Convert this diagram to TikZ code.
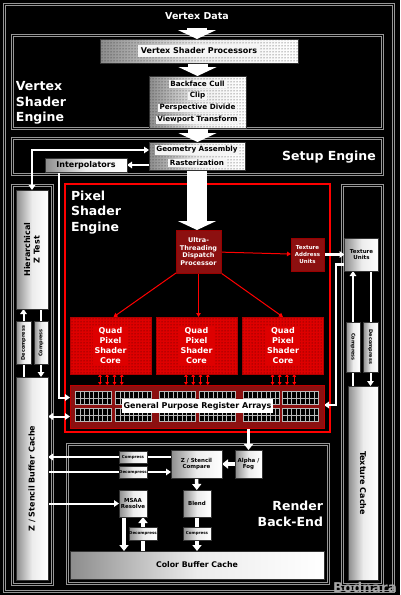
\documentclass[tikz,border=0pt]{standalone}
\usepackage{fontspec}
\setmainfont{DejaVu Sans}
\usetikzlibrary{arrows.meta,patterns,calc}
\definecolor{dispred}{RGB}{140,16,16}
\definecolor{corered}{RGB}{222,0,0}
\definecolor{framegray}{RGB}{150,150,150}
\pgfdeclarelayer{bg}
\pgfdeclarelayer{wires}
\pgfsetlayers{bg,wires,main}

\begin{document}
\begin{tikzpicture}[x=1pt,y=-1pt,
  every node/.append style={inner sep=0pt, outer sep=0pt},
  unit/.style={draw=gray!40!black, line width=0.6pt, left color=gray!90, right color=white,
    middle color=gray!15, text=black, align=center},
  dotunit/.style={unit, postaction={pattern=dots, pattern color=gray!30!black}},
  redunit/.style={draw=red!60!black, fill=dispred, text=white, align=center},
  core/.style={fill=corered, draw=red!70!black, postaction={pattern=dots, pattern color=red!25!black},
    minimum width=81pt, minimum height=57pt},
  frame/.style={draw=framegray, line width=0.9pt},
  title/.style={text=white, align=left, font=\fontsize{12.5}{15.5}\selectfont\bfseries}]
  \tikzstyle{band} = [fill=white!92!gray, inner xsep=1.5pt, inner ysep=1pt, text=black,
    font=\fontsize{7.2}{8}\selectfont\bfseries]
  \tikzstyle{coretext} = [fill=corered, inner sep=1.5pt, text=white, align=center,
    font=\fontsize{8}{9.7}\selectfont\bfseries]
  \tikzstyle{side} = [text=black, font=\fontsize{8}{9.5}\selectfont\bfseries, align=center]
  \tikzstyle{small} = [font=\fontsize{5}{6}\selectfont\bfseries]
  \tikzstyle{tiny} = [font=\fontsize{4}{5}\selectfont\bfseries]
  \tikzstyle{label} = [font=\fontsize{5.5}{6.8}\selectfont\bfseries]
  \tikzstyle{link} = [draw=white, line width=2pt, >={Triangle[width=6.5pt,length=5pt]}]
  \tikzstyle{fatlink} = [draw=white, line width=3.5pt, >={Triangle[width=9pt,length=6pt]}]
  \tikzstyle{bigarrow} = [draw=white, line width=20pt, -{Triangle[width=38pt,length=9pt]}]
  \tikzstyle{redlink} = [draw=red, line width=1pt, >={Triangle[width=4.5pt,length=4pt]}]
  \tikzstyle{tinyred} = [draw=red, line width=0.9pt, <->, >={Triangle[width=3.5pt,length=2.8pt]}]
  \useasboundingbox (0,0) rectangle (400,595);
  \begin{pgfonlayer}{bg}
    \fill[black] (0,0) rectangle (400,595);
    % double frames round each block
    \foreach \xa/\ya/\xb/\yb in {3/3/394/592, 11/34/383/129, 11/137/383/175,
        11/184/53/585, 341/184/383/585, 66/443/329/584} {
      \draw[frame] (\xa,\ya) rectangle (\xb,\yb);
      \draw[frame] (\xa+2,\ya+2) rectangle (\xb-2,\yb-2);
    }
    \draw[red, line width=1.6pt] (65,184) rectangle (330,432);
  \end{pgfonlayer}
  % vertex shader engine
  \node (v_data) [text=white, font=\fontsize{9.5}{11}\selectfont\bfseries] at (197,16) {Vertex Data};
  \node (v_proc) [dotunit, minimum width=198pt, minimum height=24pt] at (199,51) {};
  \node (v_proc_t) [band, font=\fontsize{8}{9}\selectfont\bfseries, inner xsep=3pt, inner ysep=2.5pt] at (v_proc) {Vertex Shader Processors};
  \node (v_clip) [dotunit, minimum width=97pt, minimum height=52pt] at (197.5,102) {};
  \foreach \t [count=\i] in {Backface Cull,Clip,Perspective Divide,Viewport Transform}
    \node (v_clip_\i) [band] at ($(v_clip.north)+(0,-4+12*\i)$) {\t};
  \node (v_title) [title, anchor=west] at (16,103) {Vertex\\Shader\\Engine};
  % setup engine
  \node (s_geo) [dotunit, minimum width=96pt, minimum height=28pt] at (197,156) {};
  \node (s_geo_1) [band] at ($(s_geo.north)+(0,8)$) {Geometry Assembly};
  \node (s_geo_2) [band] at ($(s_geo.north)+(0,21)$) {Rasterization};
  \node (s_title) [title] at (329,157) {Setup Engine};
  \node (s_interp) [unit, minimum width=82pt, minimum height=14pt, font=\fontsize{8}{9}\selectfont\bfseries] at (86,165) {Interpolators};
  % pixel shader engine
  \node (p_title) [title, anchor=west] at (71,212.5) {Pixel\\Shader\\Engine};
  \node (p_disp) [redunit, minimum width=45pt, minimum height=43pt, font=\fontsize{6.5}{7.7}\selectfont\bfseries] at (198.5,251.5) {Ultra-\\Threading\\Dispatch\\Processor};
  \node (p_tau) [redunit, minimum width=33pt, minimum height=33pt, font=\fontsize{5.5}{6.7}\selectfont\bfseries] at (307.5,254.5) {Texture\\Address\\Units};
  \node (t_units) [unit, minimum width=34pt, minimum height=33pt, font=\fontsize{5.5}{6.7}\selectfont\bfseries] at (361.5,254.5) {Texture\\Units};
  \foreach \x [count=\i] in {110.5,196.5,283} {
    \node (p_core\i) [core] at (\x,345.5) {};
    \node (p_core\i_t) [coretext] at (p_core\i) {Quad\\Pixel\\Shader\\Core};
  }
  \node (p_gpr) [redunit, draw=red!75!black, line width=1pt, minimum width=254pt, minimum height=43pt] at (197,406.5) {};
  \foreach \cx in {75,115,159,199,243,282}
    \foreach \cy in {391,408} {
      \fill[gray!55] (\cx,\cy) rectangle ++(37,14);
      \foreach \i in {0,...,7}
        \foreach \j in {0,1}
          \fill[black] (\cx+1+\i*4.5,\cy+1+\j*6.5) rectangle ++(3.6,5.5);
    }
  \node (p_gpr_t) [band, font=\fontsize{8}{9}\selectfont\bfseries, fill=white, inner xsep=1.5pt, inner ysep=3.5pt] at (197.5,406) {General Purpose Register Arrays};
  \coordinate (p_gpr_lo) at ([yshift=-10pt]p_gpr.west);
  % z side
  \node (h_z) [unit, minimum width=32pt, minimum height=119pt] at (32,249.5) {};
  \node (h_z_t) [side, rotate=90] at (h_z) {Hierarchical\\Z Test};
  \node (h_dec) [unit, minimum width=15pt, minimum height=43pt] at (23.5,343) {};
  \node (h_dec_t) [small, rotate=90] at (h_dec) {Decompress};
  \node (h_comp) [unit, minimum width=14pt, minimum height=43pt] at (41,343) {};
  \node (h_comp_t) [small, rotate=90] at (h_comp) {Compress};
  \node (z_cache) [unit, minimum width=32pt, minimum height=203pt] at (32,478.5) {};
  \node (z_cache_t) [side, rotate=90] at (z_cache) {Z / Stencil Buffer Cache};
  % texture side
  \node (t_comp) [unit, minimum width=14pt, minimum height=50pt] at (353,347) {};
  \node (t_comp_t) [small, rotate=-90] at (t_comp) {Compress};
  \node (t_dec) [unit, minimum width=15pt, minimum height=50pt] at (370.5,347) {};
  \node (t_dec_t) [small, rotate=-90] at (t_dec) {Decompress};
  \node (t_cache) [unit, minimum width=30pt, minimum height=194pt] at (363,483) {};
  \node (t_cache_t) [side, rotate=-90] at (t_cache) {Texture Cache};
  \coordinate (t_bend) at (336,405);
  % render back-end
  \node (r_alpha) [unit, label, minimum width=27pt, minimum height=28pt] at (248.5,464) {Alpha /\\Fog};
  \node (r_zsc) [unit, label, minimum width=51pt, minimum height=28pt] at (196.5,464) {Z / Stencil\\Compare};
  \node (r_comp1) [unit, tiny, minimum width=28pt, minimum height=12pt] at (133,457) {Compress};
  \node (r_dec1) [unit, tiny, minimum width=28pt, minimum height=12pt] at (133,472) {Decompress};
  \node (r_msaa) [unit, label, minimum width=28pt, minimum height=27pt] at (133,503.5) {MSAA\\Resolve};
  \node (r_blend) [unit, label, minimum width=28pt, minimum height=27pt] at (197,503.5) {Blend};
  \node (r_comp2) [unit, tiny, minimum width=28pt, minimum height=13pt] at (197,533.5) {Compress};
  \node (r_dec2) [unit, tiny, minimum width=28pt, minimum height=13pt] at (143,533.5) {Decompress};
  \node (c_cache) [unit, minimum width=254pt, minimum height=28pt, font=\fontsize{7.8}{9}\selectfont\bfseries] at (197,565) {Color Buffer Cache};
  \node (r_title) [title, align=right, anchor=east] at (323,514) {Render\\Back-End};
  \node (mark) [text=gray!70, font=\fontsize{13.5}{15}\selectfont\bfseries] at (365,587) {Bodnara};
  % connectors
  \begin{pgfonlayer}{wires}
    \draw[bigarrow, shorten <=8pt] (v_data.south) -- (v_data.south |- v_proc.north);
    \draw[bigarrow] (v_proc.south -| v_clip) -- (v_clip.north);
    \draw[bigarrow] (v_clip.south) -- (v_clip.south |- s_geo.north);
    \draw[bigarrow] (s_geo.south) -- (s_geo.south |- p_disp.north);
    \draw[link,<->] ([yshift=6pt]s_geo.west) -| (h_z.north);
    \draw[link,->] (s_geo.west |- s_interp.east) -- (s_interp.east);
    \draw[link,->] ([xshift=-27pt]s_interp.south) |- ([yshift=9pt]p_gpr.west);
    \draw[link,<->] (z_cache.east |- p_gpr_lo) -- (p_gpr_lo);
    \draw[link,->] (z_cache.north -| h_dec) -- (h_z.south -| h_dec);
    \draw[link,->] (h_z.south -| h_comp) -- (z_cache.north -| h_comp);
    \draw[link,->, line width=2.5pt] (p_tau) -- (t_units);
    \draw[link,->] (t_cache.north -| t_comp) -- (t_units.south -| t_comp);
    \draw[link,->] (t_units.south -| t_dec) -- (t_cache.north -| t_dec);
    \draw[link,->, line width=2.5pt] ([yshift=-10pt]t_units.west) -| (t_bend) -- (t_bend -| p_gpr.east);
    \draw[redlink,->] (p_disp) -- (p_tau);
    \draw[redlink,->] (p_disp.south west) -- ([xshift=3pt]p_core1.north);
    \draw[redlink,->] (p_disp.south) -- (p_disp.south |- p_core2.north);
    \draw[redlink,->] (p_disp.south east) -- (p_core3.north);
    \foreach \i in {1,2,3}
      \foreach \d in {-10.5,-3.3,4,11.3}
        \draw[tinyred] ($(p_core\i.south)+(\d,0)$) -- ($(p_core\i.south |- p_gpr.north)+(\d,0)$);
    \draw[fatlink,->] (p_gpr.south -| r_alpha) -- (r_alpha.north);
    \draw[fatlink,->] (r_alpha) -- (r_zsc);
    \draw[link,->] (r_zsc.west |- r_comp1) -- (z_cache.east |- r_comp1);
    \draw[link,->] (z_cache.east |- r_dec1) -- (r_zsc.west |- r_dec1);
    \draw[link,->] (z_cache.east |- r_msaa) -- (r_msaa.west);
    \draw[fatlink,->] (r_zsc) -- (r_blend);
    \draw[fatlink,->] (r_blend) -- (r_blend |- c_cache.north);
    \draw[fatlink,->] ($(r_msaa.south)+(-9,0)$) -- ($(r_msaa.south |- c_cache.north)+(-9,0)$);
    \draw[fatlink,->] (c_cache.north -| r_dec2) -- (r_msaa.south -| r_dec2);
  \end{pgfonlayer}
\end{tikzpicture}
\end{document}
